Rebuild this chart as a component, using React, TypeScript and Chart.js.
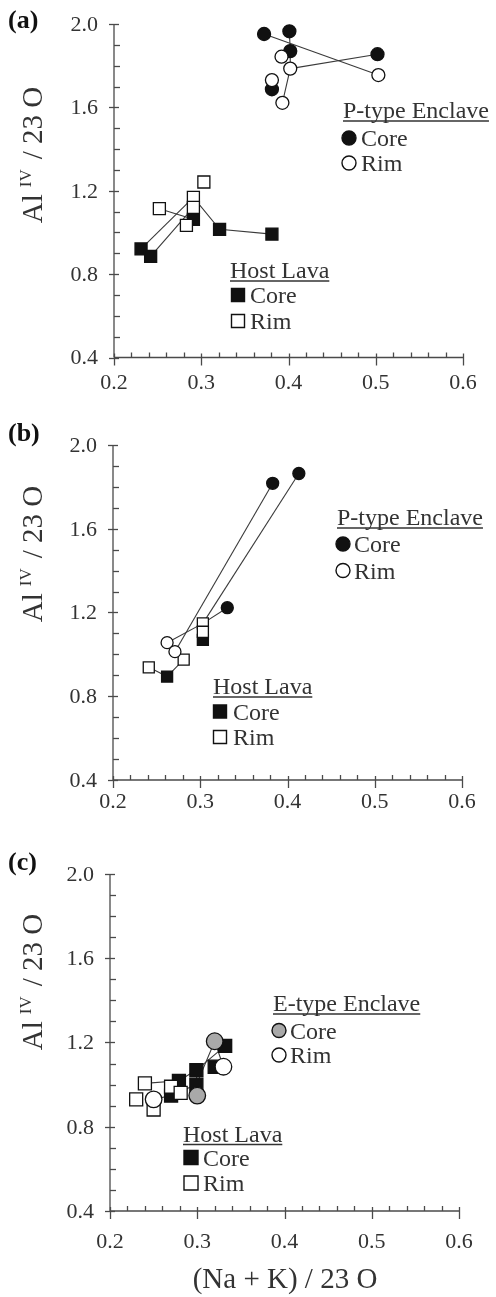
import React, { useEffect, useRef } from 'react';
import { Chart, registerables } from 'chart.js';

Chart.register(...registerables);

// ---------- axis ticks ----------
const xTickLabels = [0.2, 0.3, 0.4, 0.5, 0.6];
const yTickLabels = [0.4, 0.8, 1.2, 1.6, 2.0];

// ---------- panel (a) ----------
const aEnclaveCore: number[][] = [[0.372, 1.952], [0.401, 1.965], [0.402, 1.870], [0.502, 1.855], [0.381, 1.687]];
const aEnclaveRim: number[][] = [[0.392, 1.843], [0.402, 1.786], [0.503, 1.755], [0.381, 1.731], [0.393, 1.622]];
const aHostCore: number[][] = [[0.291, 1.063], [0.321, 1.015], [0.381, 0.992], [0.231, 0.921], [0.242, 0.885]];
const aHostRim: number[][] = [[0.252, 1.114], [0.303, 1.242], [0.291, 1.168], [0.291, 1.12], [0.283, 1.034]];
const aTies: number[][][] = [
  [[0.372, 1.952], [0.503, 1.755]],
  [[0.401, 1.965], [0.402, 1.870], [0.402, 1.786], [0.393, 1.622]],
  [[0.402, 1.786], [0.502, 1.855]],
  [[0.252, 1.114], [0.291, 1.063]],
  [[0.231, 0.921], [0.291, 1.168]],
  [[0.242, 0.885], [0.291, 1.12]],
  [[0.291, 1.168], [0.321, 1.015], [0.381, 0.992]],
];

// ---------- panel (b) ----------
const bEnclaveCore: number[][] = [[0.383, 1.817], [0.413, 1.864], [0.331, 1.223]];
const bEnclaveRim: number[][] = [[0.262, 1.056], [0.271, 1.013]];
const bHostCore: number[][] = [[0.303, 1.069], [0.262, 0.894]];
const bHostRim: number[][] = [[0.303, 1.148], [0.303, 1.108], [0.281, 0.975], [0.241, 0.938]];
const bTies: number[][][] = [
  [[0.383, 1.817], [0.271, 1.013]],
  [[0.413, 1.864], [0.303, 1.148]],
  [[0.262, 1.056], [0.303, 1.148], [0.331, 1.223]],
  [[0.271, 1.013], [0.281, 0.975], [0.262, 0.894]],
  [[0.241, 0.938], [0.262, 0.894]],
];

// ---------- panel (c) ----------
const cEnclaveCore: number[][] = [[0.320, 1.206], [0.300, 0.948]];
const cEnclaveRim: number[][] = [[0.330, 1.085], [0.250, 0.930]];
const cHostCore: number[][] = [[0.332, 1.184], [0.320, 1.085], [0.299, 1.069], [0.299, 1.000], [0.279, 1.018], [0.270, 0.948]];
const cHostRim: number[][] = [[0.240, 1.006], [0.230, 0.930], [0.250, 0.882], [0.270, 0.990], [0.281, 0.961]];
const cTies: number[][][] = [
  [[0.240, 1.006], [0.279, 1.018], [0.299, 1.069], [0.332, 1.184]],
  [[0.250, 0.930], [0.270, 0.948], [0.299, 1.000], [0.320, 1.206], [0.330, 1.085]],
  [[0.299, 1.069], [0.300, 0.948]],
];

const FONT = "'Liberation Serif', 'Times New Roman', serif";

type Legend = { title: string; x: number; base: number; mx: number; tx: number; rows: { y: number; label: string; shape: string; fill: string }[]; size: number };

type Panel = {
  label: string;
  top: number;
  height: number;
  pad: { left: number; right: number; top: number; bottom: number };
  labelBase: number;
  xLabelY: number;
  yTitleCy: number;
  xTitle: boolean;
  cR: number;
  sR: number;
  encCoreFill: string;
  encCore: number[][];
  encRim: number[][];
  hostCore: number[][];
  hostRim: number[][];
  ties: number[][][];
  legends: Legend[];
};

const panels: Panel[] = [
  {
    label: '(a)', top: 0, height: 420,
    pad: { left: 114, right: 33, top: 24, bottom: 62.5 },
    labelBase: 28, xLabelY: 383, yTitleCy: 155, xTitle: false,
    cR: 6.5, sR: 8.5, encCoreFill: '#111',
    encCore: aEnclaveCore, encRim: aEnclaveRim, hostCore: aHostCore, hostRim: aHostRim, ties: aTies,
    legends: [
      { title: 'P-type Enclave', x: 343, base: 118, mx: 349, tx: 361, size: 7,
        rows: [{ y: 138, label: 'Core', shape: 'c', fill: '#111' }, { y: 163, label: 'Rim', shape: 'c', fill: '#fff' }] },
      { title: 'Host Lava', x: 230, base: 278, mx: 238, tx: 250, size: 13,
        rows: [{ y: 295, label: 'Core', shape: 's', fill: '#111' }, { y: 321, label: 'Rim', shape: 's', fill: '#fff' }] },
    ],
  },
  {
    label: '(b)', top: 420, height: 430,
    pad: { left: 113, right: 34, top: 25, bottom: 70 },
    labelBase: 21, xLabelY: 382, yTitleCy: 134, xTitle: false,
    cR: 6, sR: 7.8, encCoreFill: '#111',
    encCore: bEnclaveCore, encRim: bEnclaveRim, hostCore: bHostCore, hostRim: bHostRim, ties: bTies,
    legends: [
      { title: 'P-type Enclave', x: 337, base: 105, mx: 343, tx: 354, size: 7,
        rows: [{ y: 124, label: 'Core', shape: 'c', fill: '#111' }, { y: 150.5, label: 'Rim', shape: 'c', fill: '#fff' }] },
      { title: 'Host Lava', x: 213, base: 274, mx: 220, tx: 233, size: 13,
        rows: [{ y: 291.5, label: 'Core', shape: 's', fill: '#111' }, { y: 317, label: 'Rim', shape: 's', fill: '#fff' }] },
    ],
  },
  {
    label: '(c)', top: 850, height: 447,
    pad: { left: 110, right: 37, top: 24, bottom: 86 },
    labelBase: 20, xLabelY: 392, yTitleCy: 132, xTitle: true,
    cR: 8.3, sR: 9.2, encCoreFill: '#a9a9a9',
    encCore: cEnclaveCore, encRim: cEnclaveRim, hostCore: cHostCore, hostRim: cHostRim, ties: cTies,
    legends: [
      { title: 'E-type Enclave', x: 273, base: 161, mx: 279, tx: 290, size: 7,
        rows: [{ y: 180.5, label: 'Core', shape: 'c', fill: '#a9a9a9' }, { y: 205, label: 'Rim', shape: 'c', fill: '#fff' }] },
      { title: 'Host Lava', x: 183, base: 291.5, mx: 191, tx: 203, size: 14,
        rows: [{ y: 307.5, label: 'Core', shape: 's', fill: '#111' }, { y: 333, label: 'Rim', shape: 's', fill: '#fff' }] },
    ],
  },
];

const toPts = (arr: number[][]) => arr.map(([x, y]) => ({ x, y }));

function decorPlugin(p: Panel) {
  return {
    id: 'decor',
    afterDraw(chart: any) {
      const { ctx, chartArea: a } = chart;
      const xs = chart.scales.x;
      const ys = chart.scales.y;
      ctx.save();
      const seg = (x1: number, y1: number, x2: number, y2: number) => {
        ctx.beginPath();
        ctx.moveTo(x1, y1);
        ctx.lineTo(x2, y2);
        ctx.stroke();
      };
      ctx.strokeStyle = '#4a4a4a';
      ctx.lineWidth = 1.3;
      seg(a.left, a.top, a.left, a.bottom);
      seg(a.left, a.bottom, a.right, a.bottom);
      // y ticks
      for (let i = 0; i <= 16; i++) {
        const v = 0.4 + i * 0.1;
        const py = Math.round(ys.getPixelForValue(v)) + 0.5;
        if (i % 4 === 0) seg(a.left - 5, py, a.left + 5, py);
        else seg(a.left, py, a.left + 6, py);
      }
      // x ticks
      for (let i = 0; i <= 20; i++) {
        const v = 0.2 + i * 0.02;
        const px = Math.round(xs.getPixelForValue(v)) + 0.5;
        if (i % 5 === 0) seg(px, a.bottom - 4, px, a.bottom + 8);
        else seg(px, a.bottom - 5, px, a.bottom);
      }
      ctx.fillStyle = '#333';
      ctx.font = `22px ${FONT}`;
      ctx.textAlign = 'right';
      ctx.textBaseline = 'middle';
      yTickLabels.forEach((v) => ctx.fillText(v.toFixed(1), a.left - 16, ys.getPixelForValue(v) + 1));
      ctx.textAlign = 'center';
      xTickLabels.forEach((v) => ctx.fillText(v.toFixed(1), xs.getPixelForValue(v), p.xLabelY));

      // panel label
      ctx.fillStyle = '#111';
      ctx.font = `bold 26px ${FONT}`;
      ctx.textAlign = 'left';
      ctx.textBaseline = 'alphabetic';
      ctx.fillText(p.label, 8, p.labelBase);

      // y title (rotated)
      ctx.save();
      ctx.translate(42, p.yTitleCy);
      ctx.rotate(-Math.PI / 2);
      ctx.fillStyle = '#333';
      const big = `29px ${FONT}`;
      const small = `17px ${FONT}`;
      ctx.font = big;
      const w1 = ctx.measureText('Al').width;
      const w3 = ctx.measureText('/ 23 O').width;
      ctx.font = small;
      const w2 = ctx.measureText('IV').width;
      const g1 = 7, g2 = 10;
      const total = w1 + g1 + w2 + g2 + w3;
      let cx = -total / 2;
      ctx.textAlign = 'left';
      ctx.font = big;
      ctx.fillText('Al', cx, 0);
      cx += w1 + g1;
      ctx.font = small;
      ctx.fillText('IV', cx, -11);
      cx += w2 + g2;
      ctx.font = big;
      ctx.fillText('/ 23 O', cx, 0);
      ctx.restore();

      if (p.xTitle) {
        ctx.fillStyle = '#333';
        ctx.font = `29px ${FONT}`;
        ctx.textAlign = 'center';
        ctx.textBaseline = 'middle';
        ctx.fillText('(Na + K) / 23 O', 285, 430);
      }

      // legends
      p.legends.forEach((lg) => {
        ctx.font = `24px ${FONT}`;
        ctx.fillStyle = '#333';
        ctx.textAlign = 'left';
        ctx.textBaseline = 'alphabetic';
        ctx.fillText(lg.title, lg.x, lg.base);
        const tw = ctx.measureText(lg.title).width;
        ctx.strokeStyle = '#333';
        ctx.lineWidth = 1.3;
        seg(lg.x, lg.base + 3, lg.x + tw, lg.base + 3);
        lg.rows.forEach((r) => {
          ctx.beginPath();
          if (r.shape === 'c') ctx.arc(lg.mx, r.y, lg.size, 0, Math.PI * 2);
          else ctx.rect(lg.mx - lg.size / 2, r.y - lg.size / 2, lg.size, lg.size);
          ctx.fillStyle = r.fill;
          ctx.fill();
          ctx.strokeStyle = '#111';
          ctx.lineWidth = 1.4;
          ctx.stroke();
          ctx.fillStyle = '#333';
          ctx.fillText(r.label, lg.tx, r.y + 8);
        });
      });
      ctx.restore();
    },
  };
}

function PanelChart({ p }: { p: Panel }) {
  const ref = useRef<HTMLCanvasElement | null>(null);
  useEffect(() => {
    if (!ref.current) return;
    const datasets: any[] = [];
    p.ties.forEach((t) =>
      datasets.push({
        data: toPts(t), showLine: true, borderColor: '#3a3a3a', borderWidth: 1.1,
        pointRadius: 0, order: 10, clip: false,
      })
    );
    const mk = (data: number[][], shape: string, fill: string, order: number) => ({
      data: toPts(data), showLine: false,
      pointStyle: shape === 's' ? 'rect' : 'circle',
      pointRadius: shape === 's' ? p.sR : p.cR,
      backgroundColor: fill, borderColor: '#111', borderWidth: 1.3, order, clip: false,
    });
    datasets.push(mk(p.hostCore, 's', '#111', 4));
    datasets.push(mk(p.hostRim, 's', '#fff', 3));
    datasets.push(mk(p.encCore, 'c', p.encCoreFill, 2));
    datasets.push(mk(p.encRim, 'c', '#fff', 1));
    const chart = new Chart(ref.current, {
      type: 'scatter',
      data: { datasets },
      options: {
        responsive: false,
        animation: false,
        devicePixelRatio: 1,
        layout: { padding: p.pad },
        events: [],
        plugins: { legend: { display: false }, tooltip: { enabled: false } },
        scales: {
          x: { type: 'linear', min: 0.2, max: 0.6, display: false },
          y: { type: 'linear', min: 0.4, max: 2.0, display: false },
        },
      },
      plugins: [decorPlugin(p)],
    } as any);
    return () => chart.destroy();
  }, [p]);
  return (
    <canvas
      ref={ref}
      width={496}
      height={p.height}
      style={{ position: 'absolute', left: 0, top: p.top, width: 496, height: p.height, display: 'block' }}
    />
  );
}

export default function App() {
  return (
    <div style={{ position: 'absolute', left: 0, top: 0, width: 496, height: 1297, background: '#fff' }}>
      {panels.map((p) => (
        <PanelChart key={p.label} p={p} />
      ))}
    </div>
  );
}
